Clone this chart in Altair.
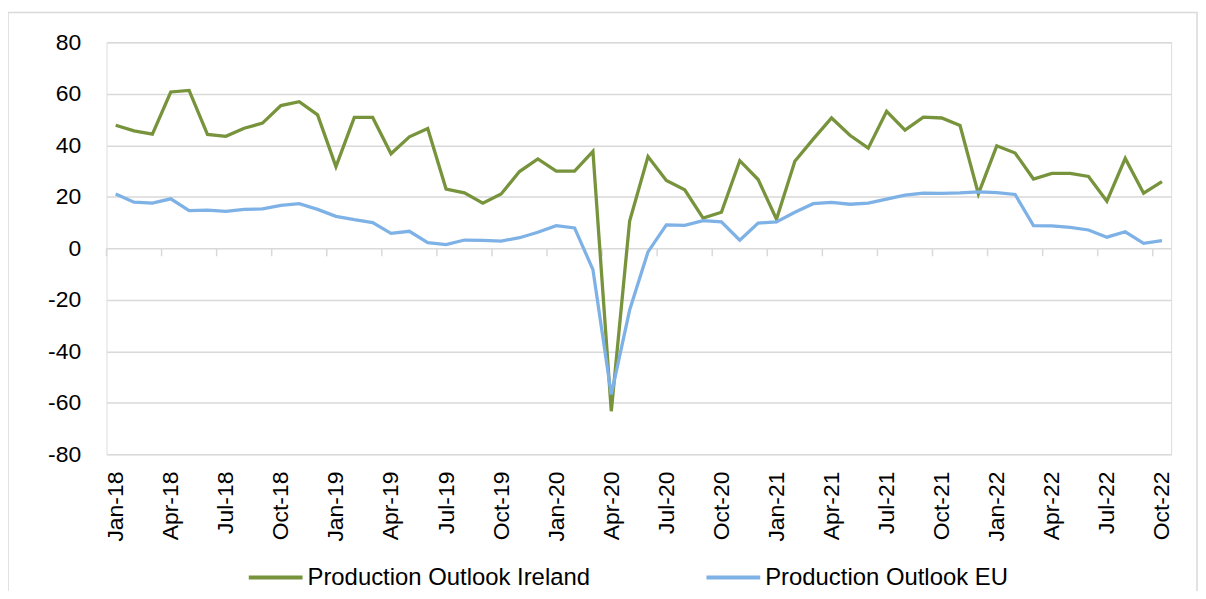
import altair as alt
import pandas as pd

months = ["Jan-18", "Feb-18", "Mar-18", "Apr-18", "May-18", "Jun-18", "Jul-18", "Aug-18", "Sep-18", "Oct-18", "Nov-18", "Dec-18",
          "Jan-19", "Feb-19", "Mar-19", "Apr-19", "May-19", "Jun-19", "Jul-19", "Aug-19", "Sep-19", "Oct-19", "Nov-19", "Dec-19",
          "Jan-20", "Feb-20", "Mar-20", "Apr-20", "May-20", "Jun-20", "Jul-20", "Aug-20", "Sep-20", "Oct-20", "Nov-20", "Dec-20",
          "Jan-21", "Feb-21", "Mar-21", "Apr-21", "May-21", "Jun-21", "Jul-21", "Aug-21", "Sep-21", "Oct-21", "Nov-21", "Dec-21",
          "Jan-22", "Feb-22", "Mar-22", "Apr-22", "May-22", "Jun-22", "Jul-22", "Aug-22", "Sep-22", "Oct-22"]

ireland = [47.8, 45.6, 44.3, 60.7, 61.3, 44.2, 43.5, 46.6, 48.6, 55.4, 56.9, 51.8,
           31.7, 50.8, 50.8, 36.7, 43.3, 46.5, 23.0, 21.5, 17.5, 21.1, 29.8, 34.7,
           30.0, 30.0, 37.6, -63.3, 10.6, 35.6, 26.3, 22.7, 11.7, 14.0, 34.0, 26.7,
           11.3, 33.8, 42.4, 50.6, 43.9, 38.9, 53.2, 45.9, 50.9, 50.6, 47.7, 21.1,
           39.8, 37.0, 26.9, 29.1, 29.1, 27.9, 18.3, 34.9, 21.4, 25.9]

eu = [21.1, 17.9, 17.5, 19.2, 14.6, 14.8, 14.3, 15.1, 15.3, 16.7, 17.3, 15.1,
      12.4, 11.1, 10.0, 5.8, 6.6, 2.2, 1.4, 3.2, 3.1, 2.8, 4.1, 6.2,
      8.8, 7.9, -8.3, -56.8, -24.0, -1.4, 9.1, 8.9, 10.7, 10.3, 3.1, 9.8,
      10.2, 14.0, 17.3, 17.8, 17.1, 17.5, 19.1, 20.6, 21.4, 21.3, 21.5, 21.9,
      21.6, 20.9, 8.8, 8.7, 8.1, 7.1, 4.3, 6.4, 1.9, 3.0]

series_names = ["Production Outlook Ireland", "Production Outlook EU"]
series_colors = ["#77933C", "#7EB1E6"]
y_ticks = [-80, -60, -40, -20, 0, 20, 40, 60, 80]
x_label_months = months[::3]

W, H = 1070, 414
FONT = "Liberation Sans"

rows = []
for name, vals in zip(series_names, [ireland, eu]):
    for m, v in zip(months, vals):
        rows.append({"month": m, "value": v, "series": name})
df = pd.DataFrame(rows)

x_enc = alt.X("month:O", sort=months,
              scale=alt.Scale(type="point", padding=0.5),
              axis=alt.Axis(values=x_label_months, labelAngle=-90, labelAlign="right",
                            labelBaseline="middle", ticks=False, domain=False, grid=False,
                            labelPadding=17, labelFontSize=23, labelFont=FONT,
                            labelColor="#000000", labelOverlap=False, title=None))
y_enc = alt.Y("value:Q",
              scale=alt.Scale(domain=[-80, 80], nice=False, zero=False),
              axis=alt.Axis(values=y_ticks, domain=False, ticks=False, labelPadding=26,
                            labelFontSize=23, labelFont=FONT, labelColor="#000000",
                            labelExpr="datum.value + ''",
                            grid=True, gridColor="#d9d9d9", gridWidth=1.5, title=None))

lines = alt.Chart(df).mark_line(strokeWidth=3.3, clip=False).encode(
    x=x_enc,
    y=y_enc,
    color=alt.Color("series:N", sort=series_names,
                    scale=alt.Scale(domain=series_names, range=series_colors),
                    legend=alt.Legend(orient="none", legendX=141, legendY=509,
                                      direction="horizontal", title=None,
                                      symbolType="stroke", symbolSize=2916,
                                      symbolStrokeWidth=4, labelOffset=3,
                                      labelFontSize=24, labelFont=FONT, labelColor="#000000",
                                      columnPadding=108, padding=0, labelLimit=400)),
)

tick_df = pd.DataFrame({"month": x_label_months})
ticks = alt.Chart(tick_df).mark_rule(color="#d9d9d9", strokeWidth=1.5,
                                     xOffset=-W / len(months) / 2).encode(
    x=alt.X("month:O", sort=months),
    y=alt.datum(0),
    y2=alt.datum(-3.1),
)

border = alt.Chart(pd.DataFrame({"a": [0]})).mark_rect(
    fill=None, stroke="#d9d9d9", strokeWidth=1.5, clip=False).encode(
    x=alt.value(-99), x2=alt.value(1096), y=alt.value(-30), y2=alt.value(580))

chart = alt.layer(border, ticks, lines).properties(
    width=W, height=H,
    padding={"left": 99, "top": 33, "right": 27, "bottom": 136},
    autosize=alt.AutoSizeParams(type="none"),
).configure_view(stroke=None).configure(background="#ffffff")

chart.save("out.html", embed_options={"renderer": "svg", "actions": False})
